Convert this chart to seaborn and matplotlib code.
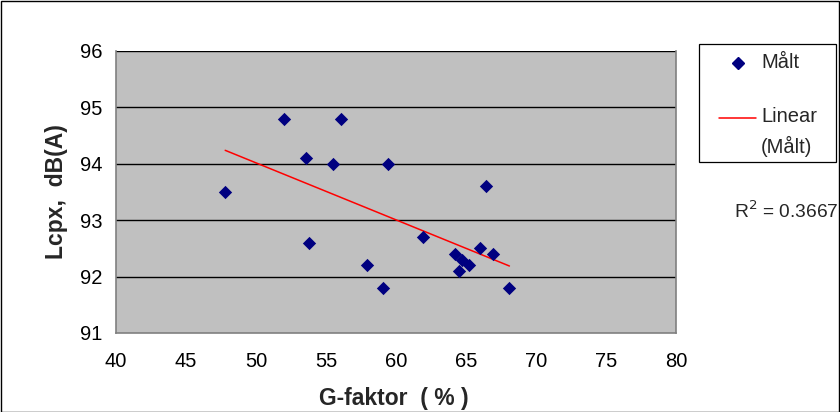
import numpy as np
import pandas as pd
import matplotlib
matplotlib.use("Agg")
import matplotlib.pyplot as plt
import seaborn as sns
from matplotlib.lines import Line2D
from matplotlib.patches import Rectangle

# Data
g_faktor = [47.8, 52.0, 53.6, 53.8, 55.5, 56.1, 57.9, 59.1, 59.4, 61.9,
            66.4, 64.2, 64.7, 64.5, 65.2, 66.0, 66.9, 68.1]
lcpx = [93.5, 94.8, 94.1, 92.6, 94.0, 94.8, 92.2, 91.8, 94.0, 92.7,
        93.6, 92.4, 92.3, 92.1, 92.2, 92.5, 92.4, 91.8]
x_ticks = [40, 45, 50, 55, 60, 65, 70, 75, 80]
y_ticks = [91, 92, 93, 94, 95, 96]
r2_text = "R$^2$ = 0.3667"
x_label = "G-faktor  ( % )"
y_label = "Lcpx,  dB(A)"
legend_labels = ["Målt", "Linear", "(Målt)"]

df = pd.DataFrame({"G": g_faktor, "L": lcpx})

sns.set_style("white")
plt.rcParams["font.family"] = ["Liberation Sans", "DejaVu Sans"]

W, H = 840, 412
fig = plt.figure(figsize=(8.4, 4.12), dpi=100)
ax = fig.add_axes([116/W, 1-333/H, (676-116)/W, (333-51)/H])
ax.set_facecolor("#C0C0C0")

ax.set_xlim(40, 80)
ax.set_ylim(91, 96)
ax.set_xticks(x_ticks)
ax.set_yticks(y_ticks)
for yv in y_ticks[1:]:
    ax.axhline(yv, color="black", lw=1.0, zorder=1)

sns.regplot(data=df, x="G", y="L", ax=ax, scatter=False, ci=None,
            truncate=True, line_kws=dict(color="red", lw=1.1, zorder=2))
sns.scatterplot(data=df, x="G", y="L", ax=ax, marker="D", s=46,
                color="#000080", edgecolor="#000080", linewidth=0, zorder=3)

for side in ["left", "bottom", "right"]:
    ax.spines[side].set_color("#808080")
    ax.spines[side].set_linewidth(1.2)
ax.spines["top"].set_visible(False)
ax.tick_params(axis="both", direction="out", width=1, color="#404040",
               labelsize=14.5, colors="black")
ax.tick_params(axis="x", length=5, pad=9)
ax.tick_params(axis="y", length=6, pad=4)
ax.set_xlabel("")
ax.set_ylabel("")

fig.text(394/W, 1-399/H, x_label, fontsize=16.5, fontweight="bold",
         ha="center", va="center")
fig.text(56/W, 1-192/H, y_label, fontsize=16.5, fontweight="bold",
         ha="center", va="center", rotation=90)

# Legend box (drawn manually to match the reference layout)
fig.patches.append(Rectangle((699/W, 1-162/H), (836-699)/W, (162-44)/H,
                             transform=fig.transFigure, fill=False,
                             edgecolor="black", lw=0.9))
fig.add_artist(Line2D([738/W], [1-63/H], marker="D", color="#000080",
                      linestyle="none", markersize=6.5,
                      transform=fig.transFigure))
fig.add_artist(Line2D([719/W, 756/W], [1-118/H, 1-118/H], color="red", lw=1.1,
                      transform=fig.transFigure))
fig.text(761/W, 1-62/H, legend_labels[0], fontsize=14.5, ha="left", va="center")
fig.text(761/W, 1-117/H, legend_labels[1], fontsize=14.5, ha="left", va="center")
fig.text(761/W, 1-146/H, legend_labels[2], fontsize=14.5, ha="left", va="center")

fig.text(734/W, 1-218/H, r2_text, fontsize=13.8, ha="left", va="baseline")

fig.patches.append(Rectangle((0.5/W, 0.5/H), 838/W, 410.5/H,
                             transform=fig.transFigure, fill=False,
                             edgecolor="black", lw=1.0))

fig.savefig("out.png", dpi=100)
